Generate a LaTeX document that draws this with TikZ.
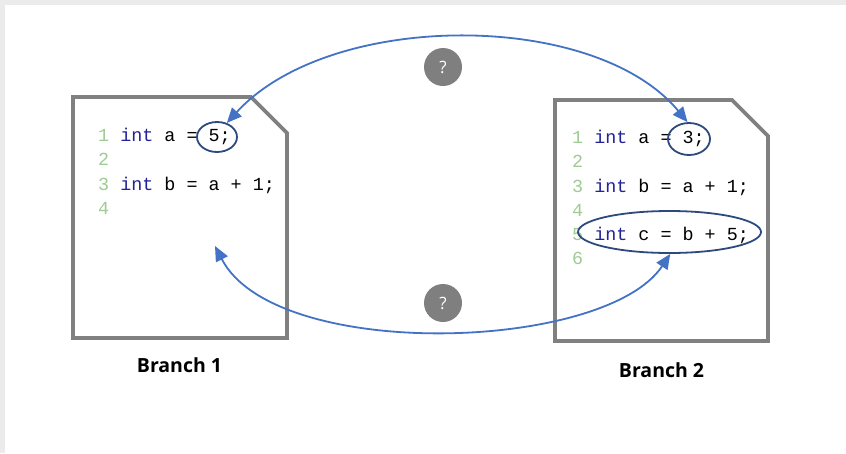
\documentclass[tikz,border=0pt]{standalone}
\usepackage{fontspec}
\setmainfont{Open Sans}
\newfontfamily\codefont{Liberation Mono}
\usetikzlibrary{arrows.meta,shapes.geometric}
\definecolor{bgstrip}{HTML}{EBEBEB}
\definecolor{docgray}{HTML}{808080}
\definecolor{numgreen}{HTML}{9FCB94}
\definecolor{kwblue}{HTML}{22229A}
\definecolor{arrowblue}{HTML}{4472C4}
\definecolor{ringblue}{HTML}{2E4A7D}
\definecolor{qgray}{HTML}{7F7F7F}
\tikzset{
  docbox/.style={draw=docgray,line width=3.6pt,line join=miter},
  codeline/.style={anchor=base west,inner sep=0pt,font=\codefont\fontsize{18.4}{20}\selectfont},
  ring/.style={draw=ringblue,line width=1.8pt,ellipse,inner sep=0pt},
  link/.style={draw=arrowblue,line width=1.8pt,{Triangle[length=15pt,width=13pt]}-{Triangle[length=15pt,width=13pt]}},
  qmark/.style={circle,fill=qgray,minimum size=38pt,inner sep=0pt,text=white,font=\fontsize{17}{20}\selectfont},
  branch/.style={anchor=base,inner sep=0pt,font=\bfseries\fontsize{19.5}{22}\selectfont}
}
\newcommand{\lnum}[1]{\textcolor{numgreen}{#1}}
\newcommand{\kwd}[1]{\textcolor{kwblue}{#1}}
\begin{document}
\begin{tikzpicture}[x=1pt,y=-1pt]
\useasboundingbox (0,0) rectangle (846,453);
\fill[white] (0,0) rectangle (846,453);
\fill[bgstrip] (0,0) rectangle (846,4.5);
\fill[bgstrip] (0,0) rectangle (4.5,453);
% documents
\draw[docbox] (73,97) -- (251,97) -- (287,133) -- (287,338) -- (73,338) -- cycle;
\draw[docbox] (555,100) -- (732,100) -- (768,136) -- (768,341) -- (555,341) -- cycle;
% left code
\node[codeline] (l1) at (98,141) {\lnum{1} \kwd{int} a = 5;};
\node[codeline] (l2) at (98,165.5) {\lnum{2}};
\node[codeline] (l3) at (98,190) {\lnum{3} \kwd{int} b = a + 1;};
\node[codeline] (l4) at (98,214.5) {\lnum{4}};
% right code
\node[codeline] (r1) at (572,143) {\lnum{1} \kwd{int} a = 3;};
\node[codeline] (r2) at (572,167.5) {\lnum{2}};
\node[codeline] (r3) at (572,192) {\lnum{3} \kwd{int} b = a + 1;};
\node[codeline] (r4) at (572,216) {\lnum{4}};
\node[codeline] (r5) at (572,240) {\lnum{5} \kwd{int} c = b + 5;};
\node[codeline] (r6) at (572,264.5) {\lnum{6}};
% rings
\node[ring,minimum width=40pt,minimum height=30pt] (five) at (217,137) {};
\node[ring,minimum width=42pt,minimum height=32pt] (three) at (689,139) {};
\node[ring,minimum width=183pt,minimum height=42pt] (cline) at (669.5,232) {};
% question marks
\node[qmark] (q1) at (443,67) {?};
\node[qmark] (q2) at (443,303) {?};
% free end of bottom link
\coordinate (lfree) at (215,246);
% links
\draw[link] (five.55) .. controls (330,10) and (595,10) .. (three.95);
\draw[link] (lfree) .. controls (275,362) and (605,352) .. (cline.272);
% labels
\node[branch] (b1) at (179.5,372) {Branch 1};
\node[branch] (b2) at (661.5,377) {Branch 2};
\end{tikzpicture}
\end{document}
